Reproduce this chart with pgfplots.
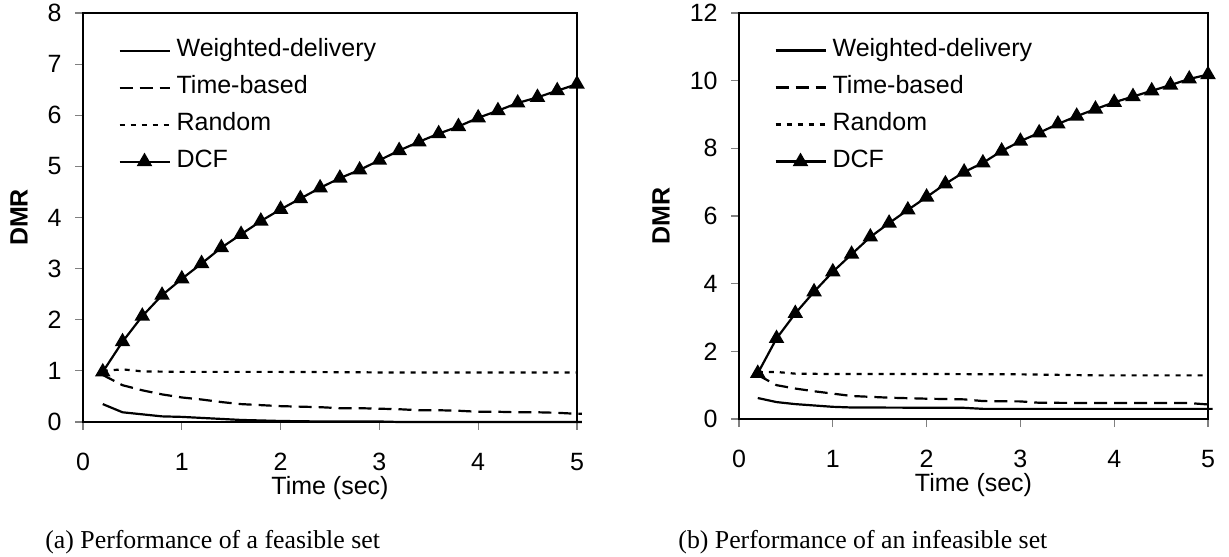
\documentclass[border=0pt]{standalone}
\usepackage{fontspec}
\setmainfont{Liberation Serif}
\newfontfamily\arial{Liberation Sans}
\usepackage{pgfplots}
\pgfplotsset{compat=1.18}

\pgfplotsset{
  dmr/.style={
    scale only axis,
    xmin=0, xmax=5, ymin=0,
    xtick={0,1,2,3,4,5},
    axis line style={line width=1.2pt},
    tick style={draw=gray, line width=0.6pt},
    major tick length=4pt,
    tick align=outside,
    xtick pos=left, ytick pos=left,
    font=\arial\fontsize{12.5}{15}\selectfont,
    ticklabel style={font=\arial\fontsize{12.5}{15}\selectfont},
    /pgf/number format/assume math mode=true,
    yticklabel style={anchor=east, inner sep=0pt, xshift=-6.5pt},
    xticklabel style={anchor=north, inner sep=0pt, yshift=-11.5pt},
    xlabel={Time (sec)},
    xlabel style={at={(axis description cs:0.5,0)}, anchor=center, yshift=-33pt},
    ylabel={\bfseries DMR},
    clip=false,
    legend cell align=left,
    legend image code/.code={\draw[mark repeat=2,mark phase=2,##1] plot coordinates {(0pt,0pt) (12.5pt,0pt) (25pt,0pt)};},
    legend style={draw=none, fill=none, at={(0,1)}, anchor=north west,
      xshift=17.5pt, yshift=-12.6pt, inner sep=0pt, row sep=6.5pt, column sep=3pt,
      nodes={inner sep=0pt, text height=9pt, text depth=3pt},
      font=\arial\fontsize{12.5}{15}\selectfont},
  },
  wd/.style={black, line width=1.1pt, no marks},
  tb/.style={black, line width=1.1pt, dash pattern=on 6.5pt off 3.5pt, no marks},
  rd/.style={black, line width=1.1pt, dash pattern=on 2.5pt off 3pt, no marks},
  dcf/.style={black, line width=1.1pt, mark=triangle*, mark size=3.4pt, mark options={solid}},
}

\begin{document}
\begin{tikzpicture}

% (a) feasible set
\begin{axis}[dmr, at={(41.5pt,67pt)}, anchor=south west,
  width=247pt, height=204.5pt, ymax=8, ytick={0,1,2,3,4,5,6,7,8},
  ylabel style={at={(axis description cs:0,0.5)}, anchor=center, yshift=32pt}]
\draw[black, line width=1.3pt] (rel axis cs:0,0) rectangle (rel axis cs:1,1);
\addplot[wd] coordinates {
  (0.2,0.35)(0.4,0.19)(0.6,0.15)(0.8,0.11)(1.0,0.10)(1.2,0.08)(1.4,0.06)
  (1.6,0.04)(1.8,0.03)(2.0,0.02)(2.4,0.01)(3.0,0.01)(3.2,0.0)(5.0,0.0)(5.05,0.0)};
\addlegendentry{Weighted-delivery}
\addplot[tb] coordinates {
  (0.2,0.92)(0.4,0.72)(0.6,0.62)(0.8,0.54)(1.0,0.48)(1.2,0.44)(1.4,0.39)
  (1.6,0.35)(1.8,0.33)(2.0,0.31)(2.2,0.30)(2.4,0.29)(2.6,0.27)(2.8,0.27)
  (3.0,0.26)(3.2,0.25)(3.4,0.23)(3.6,0.23)(3.8,0.22)(4.0,0.20)(4.2,0.20)
  (4.4,0.19)(4.6,0.19)(4.8,0.18)(5.0,0.16)(5.05,0.16)};
\addlegendentry{Time-based}
\addplot[rd] coordinates {
  (0.2,1.00)(0.4,1.03)(0.6,0.99)(1.0,0.98)(2.0,0.98)(3.0,0.97)(4.0,0.97)(5.0,0.97)};
\addlegendentry{Random}
\addplot[dcf] coordinates {
  (0.2,0.98)(0.4,1.57)(0.6,2.07)(0.8,2.48)(1.0,2.80)(1.2,3.10)(1.4,3.41)
  (1.6,3.67)(1.8,3.93)(2.0,4.16)(2.2,4.37)(2.4,4.58)(2.6,4.77)(2.8,4.93)
  (3.0,5.12)(3.2,5.31)(3.4,5.48)(3.6,5.64)(3.8,5.78)(4.0,5.95)(4.2,6.09)
  (4.4,6.24)(4.6,6.35)(4.8,6.48)(5.0,6.61)};
\addlegendentry{DCF}
\end{axis}

% (b) infeasible set
\begin{axis}[dmr, at={(369.5pt,68.5pt)}, anchor=south west,
  width=234.5pt, height=203pt, ymax=12, ytick={0,2,4,6,8,10,12},
  ylabel style={at={(axis description cs:0,0.5)}, anchor=center, yshift=39pt}]
\draw[black, line width=1.3pt] (rel axis cs:0,0) rectangle (rel axis cs:1,1);
\addplot[wd] coordinates {
  (0.2,0.62)(0.4,0.50)(0.6,0.44)(0.8,0.40)(1.0,0.36)(1.2,0.34)(2.4,0.33)
  (2.6,0.30)(5.0,0.30)(5.05,0.30)};
\addlegendentry{Weighted-delivery}
\addplot[tb] coordinates {
  (0.2,1.30)(0.4,1.00)(0.6,0.90)(0.8,0.82)(1.0,0.75)(1.2,0.68)(1.6,0.63)
  (2.0,0.60)(2.4,0.58)(2.6,0.53)(3.0,0.52)(3.2,0.48)(4.0,0.47)(4.8,0.47)
  (5.0,0.43)(5.05,0.43)};
\addlegendentry{Time-based}
\addplot[rd] coordinates {
  (0.2,1.38)(0.4,1.39)(0.6,1.34)(1.0,1.33)(2.0,1.33)(3.0,1.32)(3.8,1.29)(5.0,1.29)};
\addlegendentry{Random}
\addplot[dcf] coordinates {
  (0.2,1.35)(0.4,2.38)(0.6,3.12)(0.8,3.76)(1.0,4.35)(1.2,4.87)(1.4,5.38)
  (1.6,5.79)(1.8,6.18)(2.0,6.56)(2.2,6.95)(2.4,7.30)(2.6,7.57)(2.8,7.92)
  (3.0,8.21)(3.2,8.46)(3.4,8.72)(3.6,8.95)(3.8,9.16)(4.0,9.36)(4.2,9.53)
  (4.4,9.70)(4.6,9.87)(4.8,10.05)(5.0,10.18)};
\addlegendentry{DCF}
\end{axis}

\node[anchor=west, inner sep=0pt, font=\fontsize{12.9}{15}\selectfont] at (22.5pt,7pt) {(a) Performance of a feasible set};
\node[anchor=west, inner sep=0pt, font=\fontsize{12.9}{15}\selectfont] at (339pt,7pt) {(b) Performance of an infeasible set};

\pgfresetboundingbox
\useasboundingbox (0,0) rectangle (614.5pt,278pt);
\end{tikzpicture}
\end{document}
